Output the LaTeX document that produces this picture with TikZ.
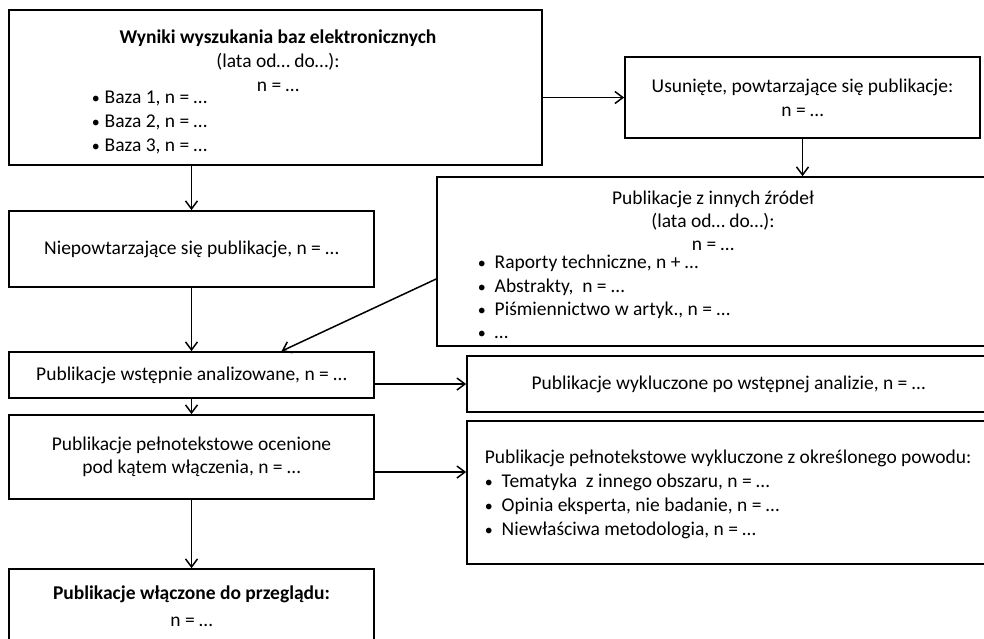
\documentclass[tikz,border=0pt]{standalone}
\usepackage{fontspec}
\setmainfont{Carlito}
\usetikzlibrary{arrows.meta, positioning, calc}
\newcommand{\blt}{{\fontsize{16}{16}\selectfont•}}

\begin{document}
\begin{tikzpicture}[x=1pt, y=-1pt,
  >={Straight Barb[length=8pt, width=12pt]}, line width=1.5pt,
  font=\fontsize{19.5}{24}\selectfont,
  box/.style={draw, line width=1.7pt, inner sep=0pt, align=center},
  txt/.style={inner sep=0pt, align=center},
  lst/.style={inner sep=0pt, align=left, anchor=west}]
  \useasboundingbox (0,0) rectangle (984,638);
  % left column
  \node[box, minimum width=533pt, minimum height=155pt] (wyniki) at (275.5,87.5) {};
  \node[txt] (wynikiT) at (278,61) {\textbf{Wyniki wyszukania baz elektronicznych}\\(lata od… do…):\\n = …};
  \node[lst] (wynikiL) at (91,122.5)
    {\blt\hspace{5pt}Baza 1, n = …\\\blt\hspace{5pt}Baza 2, n = …\\\blt\hspace{5pt}Baza 3, n = …};
  \node[box, minimum width=365pt, minimum height=76pt] (niepowt) at (191.5,249) {Niepowtarzające się publikacje, n = …};
  \node[box, minimum width=365pt, minimum height=46pt] (wstep) at (191.5,375) {Publikacje wstępnie analizowane, n = …};
  \node[box, minimum width=365pt, minimum height=84pt, font=\fontsize{19.5}{23}\selectfont] (pelne) at (191.5,457)
    {Publikacje pełnotekstowe ocenione\\pod kątem włączenia, n = …};
  \node[box, minimum width=365pt, minimum height=75pt, font=\fontsize{19.5}{27}\selectfont] (wlacz) at (191.5,606.5)
    {\textbf{Publikacje włączone do przeglądu:}\\n = …};
  % right column
  \node[box, minimum width=355pt, minimum height=81pt] (usuniete) at (802.5,97.5) {Usunięte, powtarzające się publikacje:\\n = …};
  \node[box, minimum width=553pt, minimum height=169pt] (zrodla) at (713.5,261.5) {};
  \node[txt, font=\fontsize{19.5}{23}\selectfont] (zrodlaT) at (713,221) {Publikacje z innych źródeł\\(lata od… do…):\\n = …};
  \node[lst, font=\fontsize{19.5}{23.3}\selectfont] (zrodlaL) at (477,297)
    {\blt\hspace{9pt}Raporty techniczne, n + …\\\blt\hspace{9pt}Abstrakty,\ \ n = …\\\blt\hspace{9pt}Piśmiennictwo w artyk., n = …\\\blt\hspace{9pt}…};
  \node[box, minimum width=523pt, minimum height=56pt] (wykl) at (728.5,384) {Publikacje wykluczone po wstępnej analizie, n = …};
  \node[box, minimum width=523pt, minimum height=143pt] (okr) at (728.5,492.5) {};
  \node[lst] (okrL) at (484,494)
    {Publikacje pełnotekstowe wykluczone z określonego powodu:\\\blt\hspace{9pt}Tematyka\ \ z innego obszaru, n = …\\\blt\hspace{9pt}Opinia eksperta, nie badanie, n = …\\\blt\hspace{9pt}Niewłaściwa metodologia, n = …};
  % connectors
  \draw[->] (wyniki.south -| niepowt.north) -- (niepowt.north);
  \draw[->] (wyniki.east |- usuniete.west) -- (usuniete.west);
  \draw[->] (usuniete.south) -- (usuniete.south |- zrodla.north);
  \draw[->] (niepowt) -- (wstep);
  \draw[->] ([yshift=-17.5pt]zrodla.west) -- ([xshift=90pt]wstep.north);
  \draw[->] (wstep.east |- wykl.west) -- (wykl.west);
  \draw[->] (wstep) -- (pelne);
  \draw[->] ([yshift=-15pt]pelne.east) -- ([yshift=-15pt]pelne.east -| okr.west);
  \draw[->] (pelne) -- (wlacz);
\end{tikzpicture}
\end{document}
